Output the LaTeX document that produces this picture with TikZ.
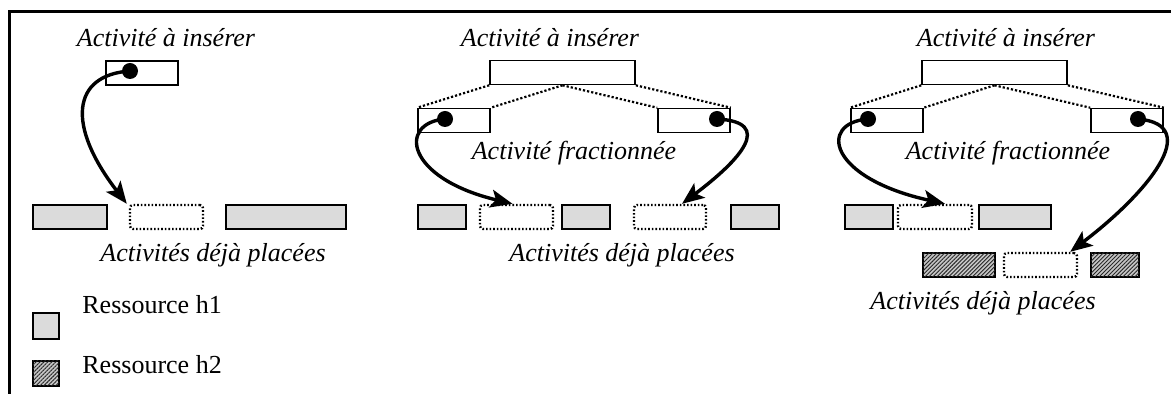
\documentclass[tikz,border=0pt]{standalone}
\usepackage{fontspec}
\setmainfont{Liberation Serif}
\usepackage{tikz}
\usetikzlibrary{arrows.meta, patterns.meta}
\tikzset{
  txt/.style = {inner sep=0pt, font=\itshape\fontsize{13}{15}\selectfont},
  leg/.style = {inner sep=0pt, anchor=west, font=\fontsize{13}{15}\selectfont},
  act/.style = {draw, line width=0.8pt, inner sep=0pt, minimum height=12pt},
  slot/.style = {act, densely dotted, line width=1.2pt, rounded corners=1.5pt},
  hone/.style = {act, fill=gray!28},
  htwo/.style = {act, fill=gray!45,
    postaction={pattern={Lines[angle=45, distance=1.4pt, line width=0.45pt]},
      pattern color=gray!30!black}},
  pin/.style = {circle, fill=black, inner sep=0pt, minimum size=8pt},
  mv/.style = {-{Stealth[length=11pt, width=9pt, inset=2.5pt]}, line width=1.7pt},
  split/.style = {densely dotted, line width=1.1pt}
}

\begin{document}
\begin{tikzpicture}[x=0.5pt, y=-0.5pt]
\useasboundingbox (0,0) rectangle (1171,394);
% cadre
\draw[line width=1.5pt] (9,394) -- (9,12) -- (1171,12);

% insertion simple
\node [txt] (t1) at (166,38) {Activité à insérer};
\node [act, minimum width=36pt] (a1) at (142,73) {};
\node [pin] (p1) at (130,71) {};
\node [hone, minimum width=37pt] (g11) at (70,217) {};
\node [slot, minimum width=36.5pt] (s1) at (166.5,217) {};
\node [hone, minimum width=60pt] (g12) at (286,217) {};
\node [txt] (d1) at (213,255) {Activités déjà placées};
\draw [mv] (p1.center) .. controls (72,75) and (66,125) .. ([xshift=-1pt]s1.north west);

% insertion fractionnee, une ressource
\node [txt] (t2) at (550,38) {Activité à insérer};
\node [act, minimum width=72.5pt] (a2) at (562.5,72.5) {};
\node [act, minimum width=36pt] (f21) at (454,120.5) {};
\node [act, minimum width=36pt] (f22) at (694,120.5) {};
\node [pin] (p21) at (445,119) {};
\node [pin] (p22) at (717,119) {};
\node [txt] (r2) at (574,153) {Activité fractionnée};
\node [hone, minimum width=24pt] (g21) at (442,217) {};
\node [slot, minimum width=36.5pt] (s21) at (516.5,217) {};
\node [hone, minimum width=24pt] (g22) at (586,217) {};
\node [slot, minimum width=36pt] (s22) at (670,217) {};
\node [hone, minimum width=24pt] (g23) at (755,217) {};
\node [txt] (d2) at (622,255) {Activités déjà placées};
\draw [split] (a2.south west) -- (f21.north west);
\draw [split] (a2.south) -- (f21.north east);
\draw [split] (a2.south) -- (f22.north west);
\draw [split] (a2.south east) -- (f22.north east);
\draw [mv] (p21.center) .. controls (398,123) and (405,178) .. ([xshift=-2pt]s21.north);
\draw [mv] (p22.center) .. controls (775,122) and (740,160) .. ([xshift=6pt]s22.north);

% insertion fractionnee, deux ressources
\node [txt] (t3) at (1006,38) {Activité à insérer};
\node [act, minimum width=72.5pt] (a3) at (994.5,72.5) {};
\node [act, minimum width=36pt] (f31) at (887,120.5) {};
\node [act, minimum width=36pt] (f32) at (1127,120.5) {};
\node [pin] (p31) at (868,119) {};
\node [pin] (p32) at (1138,119) {};
\node [txt] (r3) at (1008,153) {Activité fractionnée};
\node [hone, minimum width=24pt] (g31) at (869,217) {};
\node [slot, minimum width=37pt] (s31) at (935,217) {};
\node [hone, minimum width=36pt] (g32) at (1015,217) {};
\node [htwo, minimum width=36pt] (g33) at (959,265) {};
\node [slot, minimum width=36.5pt] (s32) at (1040.5,265) {};
\node [htwo, minimum width=24pt] (g34) at (1115,265) {};
\node [txt] (d3) at (983,303) {Activités déjà placées};
\draw [split] (a3.south west) -- (f31.north west);
\draw [split] (a3.south) -- (f31.north east);
\draw [split] (a3.south) -- (f32.north west);
\draw [split] (a3.south east) -- (f32.north east);
\draw [mv] (p31.center) .. controls (818,123) and (828,178) .. ([xshift=5pt]s31.north);
\draw [mv] (p32.center) .. controls (1205,125) and (1145,195) .. ([xshift=-4pt]s32.north east);

% legende
\node [hone, minimum width=13pt, minimum height=13pt] (k1) at (46,326) {};
\node [leg] (l1) at (82,305) {Ressource h1};
\node [htwo, minimum width=13pt, minimum height=12.5pt] (k2) at (46,373.5) {};
\node [leg] (l2) at (82,365) {Ressource h2};
\end{tikzpicture}
\end{document}
